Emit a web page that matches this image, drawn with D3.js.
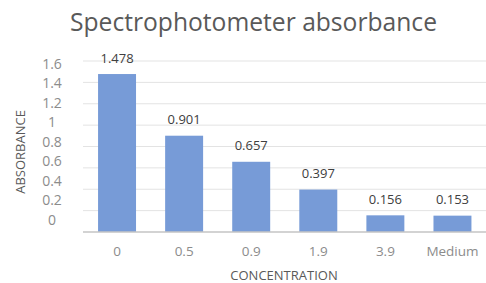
<!DOCTYPE html>
<html><head><meta charset="utf-8">
<script src="https://cdn.jsdelivr.net/npm/d3@7"></script>
<style>
html,body{margin:0;padding:0;background:#fff;}
svg{display:block;}
text{font-family:"Open Sans","Noto Sans",sans-serif;}
</style></head>
<body>
<svg id="chart" width="486" height="283"></svg>
<script>
const categories = ["0", "0.5", "0.9", "1.9", "3.9", "Medium"];
const absorbance = [1.478, 0.901, 0.657, 0.397, 0.156, 0.153];
const valueLabels = ["1.478", "0.901", "0.657", "0.397", "0.156", "0.153"];
const yTicks = [0, 0.2, 0.4, 0.6, 0.8, 1, 1.2, 1.4, 1.6];
const yTickLabels = ["0", "0.2", "0.4", "0.6", "0.8", "1", "1.2", "1.4", "1.6"];

const svg = d3.select("#chart");

const x = d3.scaleBand().domain(categories).range([83.5, 486]).paddingInner(0.434).paddingOuter(0.217);
const y = d3.scaleLinear().domain([0, 1.6]).range([232, 61]);
// tick labels in the reference sit on a slightly compressed scale
const yLab = d3.scaleLinear().domain([0, 1.6]).range([220, 64]);

// gridlines
svg.append("g").selectAll("line").data(yTicks.slice(1)).join("line")
  .attr("x1", 83).attr("x2", 486)
  .attr("y1", d => y(d)).attr("y2", d => y(d))
  .attr("stroke", "#e3e3e3").attr("stroke-width", 1);

// bars
svg.append("g").selectAll("rect").data(absorbance).join("rect")
  .attr("x", (d, i) => x(categories[i]))
  .attr("width", x.bandwidth())
  .attr("y", d => y(d))
  .attr("height", d => y(0) - y(d))
  .attr("fill", "#779bd7");

// baseline
svg.append("line").attr("x1", 83).attr("x2", 486).attr("y1", y(0)).attr("y2", y(0))
  .attr("stroke", "#c4c4c4").attr("stroke-width", 1.5);

// y axis labels
const yAxis = d3.axisLeft(yLab).tickValues(yTicks).tickSize(0)
  .tickFormat((d, i) => yTickLabels[i]);
const ga = svg.append("g").attr("transform", "translate(52,0)").call(yAxis);
ga.select(".domain").remove();
ga.selectAll("text").attr("x", 0).attr("text-anchor", "middle")
  .attr("fill", "#8c8c8c").style("font-size", "14px").style("font-family", '"Open Sans","Noto Sans",sans-serif');

// x axis labels
const xAxis = d3.axisBottom(x).tickSize(0);
const gx = svg.append("g").attr("transform", "translate(0,246)").call(xAxis);
gx.select(".domain").remove();
gx.selectAll("text").attr("y", 0).attr("dy", "0.71em")
  .attr("fill", "#8c8c8c").style("font-size", "13.5px").style("font-family", '"Open Sans","Noto Sans",sans-serif');

// value labels
svg.append("g").selectAll("text").data(absorbance).join("text")
  .attr("x", (d, i) => x(categories[i]) + x.bandwidth() / 2)
  .attr("y", d => y(d) - 16)
  .attr("dy", "0.35em")
  .attr("text-anchor", "middle")
  .attr("fill", "#404040").style("font-size", "13px")
  .text((d, i) => valueLabels[i]);

// title
const title = svg.append("text").attr("x", 253.5).attr("y", 31)
  .attr("text-anchor", "middle").attr("fill", "#595959")
  .style("font-size", "22px").style("font-weight", "400")
  .text("Spectrophotometer absorbance");
const tw = title.node().getComputedTextLength();
title.style("font-size", (22 * 367 / tw).toFixed(2) + "px");

// axis titles
svg.append("text").attr("x", 284).attr("y", 275).attr("dy", "0.35em")
  .attr("text-anchor", "middle").attr("fill", "#595959").style("font-size", "13px")
  .text("CONCENTRATION");
svg.append("text").attr("transform", "translate(20,152) rotate(-90)").attr("dy", "0.35em")
  .attr("text-anchor", "middle").attr("fill", "#595959").style("font-size", "13px")
  .text("ABSORBANCE");
</script>
</body></html>
